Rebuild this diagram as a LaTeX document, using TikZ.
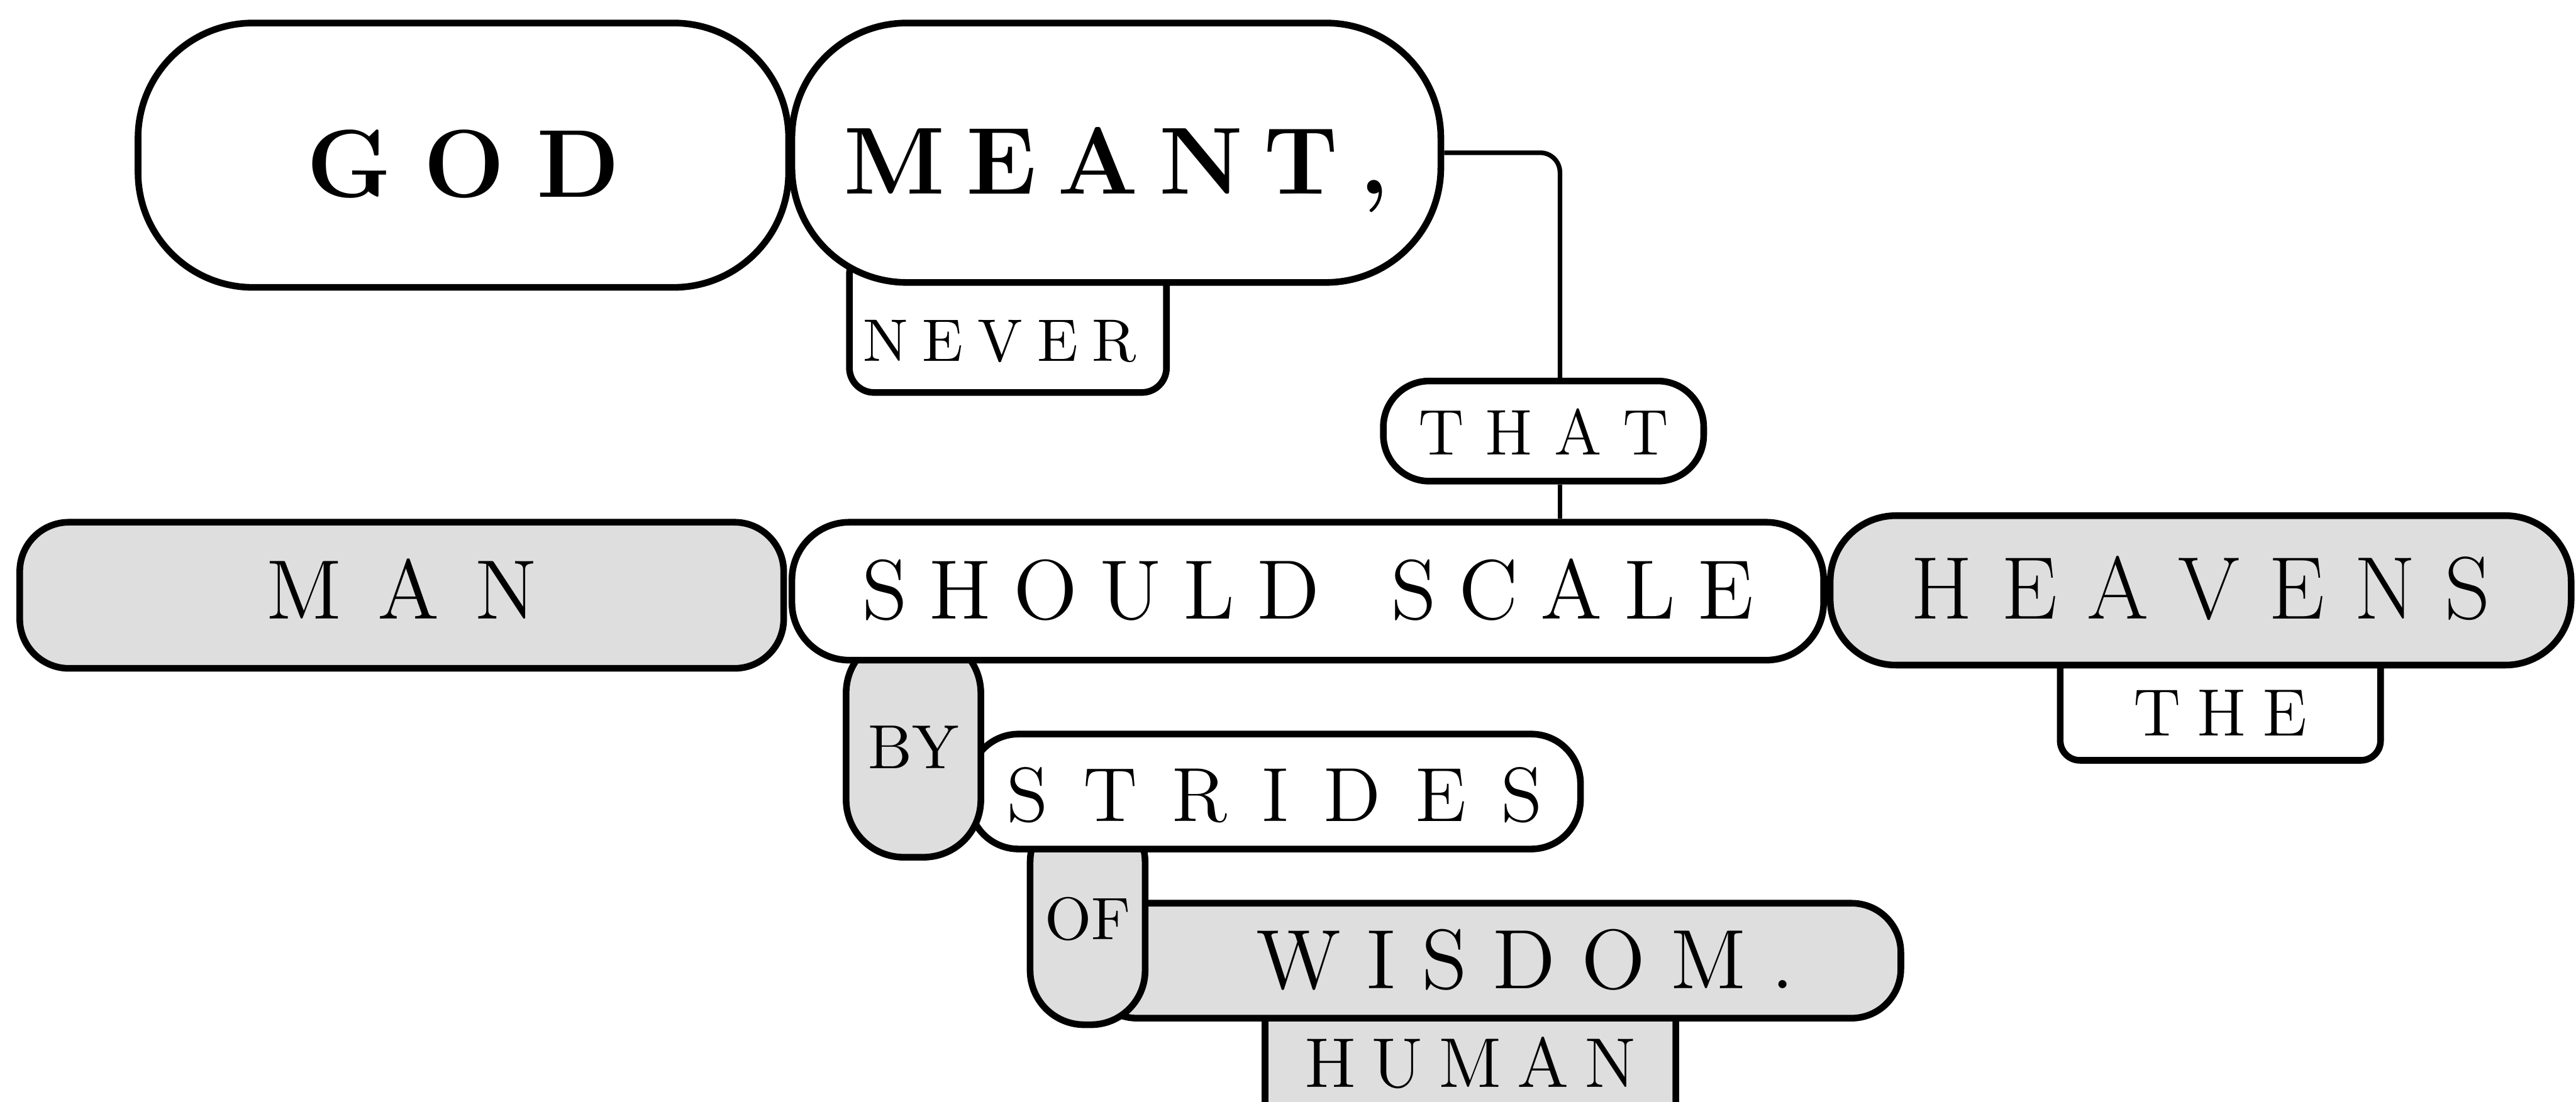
\documentclass[tikz,border=0pt]{standalone}
\usepackage{fontspec}
\usepackage{tikz}
\usetikzlibrary{calc}
\definecolor{shade}{RGB}{222,222,222}
% size of a word, and a kern between its letters
\newcommand{\wordfont}[1]{\fontsize{#1}{#1}\selectfont}
\makeatletter
\newcommand{\wordspread}[2]{\@tfor\ws@c:=#2\do{\ws@c\kern#1em}\unkern}
\makeatother

\begin{document}
\begin{tikzpicture}[
  box/.style={draw, line width=1.15pt, fill=white, inner xsep=0pt, inner ysep=0pt, anchor=north west},
  shaded/.style={box, fill=shade},
  link/.style={line width=0.8pt, rounded corners=1.2mm}
]
  \useasboundingbox (0,0) rectangle (15.68,-6.71);
  \clip (0,0) rectangle (15.68,-6.71);
  % subject and verb
  \node[box, rounded corners=1.5mm, minimum width=1.93cm, text height=0.68cm, text depth=0.19cm, font=\wordfont{10.4}] (never) at (5.15,-1.50) {\wordspread{0.24}{NEVER}\hspace*{0.1cm}};
  \node[box, rounded corners=7mm, minimum width=3.96cm, text height=1.06cm, text depth=0.55cm, font=\bfseries\wordfont{16.7}] (god) at (0.82,-0.12) {\wordspread{0.33}{GOD}};
  \node[box, rounded corners=7mm, minimum width=3.95cm, text height=1.04cm, text depth=0.54cm, font=\bfseries\wordfont{16.5}] (meant) at (4.80,-0.12) {\wordspread{0.22}{MEANT,}};
  \node[box, rounded corners=2.8mm, minimum width=1.95cm, text height=0.45cm, text depth=0.16cm, font=\wordfont{11.2}] (that) at (8.40,-2.30) {\wordspread{0.33}{THAT}};
  % object
  \node[box, rounded corners=1.2mm, minimum width=1.95cm, text height=0.66cm, text depth=0.15cm, font=\wordfont{11.6}] (the) at (12.52,-3.80) {\wordspread{0.24}{THE}};
  \node[shaded, rounded corners=4mm, minimum width=4.51cm, text height=0.63cm, text depth=0.28cm, font=\wordfont{15.4}] (heavens) at (11.12,-3.12) {\wordspread{0.33}{HEAVENS}};
  % phrases
  \node[shaded, rounded corners=3mm, minimum width=2.50cm, text height=0.70cm, text depth=0.60cm, font=\wordfont{12.2}] (human) at (7.68,-5.90) {\wordspread{0.22}{HUMAN}};
  \node[shaded, rounded corners=3mm, minimum width=4.95cm, text height=0.52cm, text depth=0.18cm, font=\wordfont{14.6}] (wisdom) at (6.60,-5.48) {\hspace*{0.38cm}\wordspread{0.30}{WISDOM.}};
  \node[shaded, rounded corners=3.3mm, minimum width=0.70cm, text height=0.80cm, text depth=0.52cm, font=\wordfont{10.4}] (of) at (6.25,-4.90) {OF};
  \node[box, rounded corners=3mm, minimum width=3.72cm, text height=0.53cm, text depth=0.17cm, font=\wordfont{13.3}] (strides) at (5.88,-4.45) {\wordspread{0.45}{STRIDES}};
  \node[shaded, rounded corners=3.5mm, minimum width=0.82cm, text height=0.81cm, text depth=0.54cm, font=\wordfont{10.8}] (by) at (5.13,-3.85) {BY};
  % clause
  \node[shaded, rounded corners=3mm, minimum width=4.65cm, text height=0.59cm, text depth=0.30cm, font=\wordfont{14.6}] (man) at (0.10,-3.16) {\wordspread{0.42}{MAN}};
  \node[box, rounded corners=3.5mm, minimum width=6.28cm, text height=0.59cm, text depth=0.25cm, font=\wordfont{14.6}] (should) at (4.80,-3.16) {\wordspread{0.26}{SHOULD\ SCALE}};
  \draw[link] (meant.east) -| ([xshift=1mm]that.north);
  \draw[link] ([xshift=1mm]that.south) -- ([xshift=1mm]that.south |- should.north);
\end{tikzpicture}
\end{document}
